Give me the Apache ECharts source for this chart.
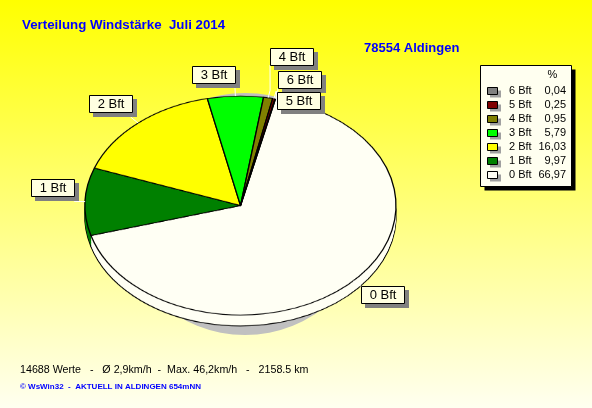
<!DOCTYPE html>
<html><head><meta charset="utf-8">
<script src="https://cdn.jsdelivr.net/npm/echarts@6/dist/echarts.min.js"></script>
<style>
html,body{margin:0;padding:0;width:592px;height:408px;overflow:hidden;background:#ffff80;}
#bg,#pie,#lab{position:absolute;left:0;top:0;width:592px;}
#bg,#lab{height:408px;}
#pie{height:580px;transform:scaleY(0.70418);transform-origin:0 0;}
</style></head><body>
<div id="bg"></div><div id="pie"></div><div id="lab"></div>
<script>
// ---------- data ----------
const categories = ['0 Bft', '1 Bft', '2 Bft', '3 Bft', '4 Bft', '5 Bft', '6 Bft'];
const percentages = [66.97, 9.97, 16.03, 5.79, 0.95, 0.25, 0.04];
const sliceColors = ['#FFFFF4', '#008000', '#FFFF00', '#00FF00', '#808000', '#800000', '#808080'];
const titleText = 'Verteilung Windstärke  Juli 2014';
const stationText = '78554 Aldingen';
const statsText = '14688 Werte   -   Ø 2,9km/h  -  Max. 46,2km/h   -   2158.5 km';
const creditText = '© WsWin32  -  AKTUELL IN ALDINGEN 654mNN';
const legendHeader = '%';

// ---------- layout ----------
const FONT = "'Liberation Sans', Arial, sans-serif";
const CX = 240.5, CY = 205.5, RX = 155.5, RY = 109.5, DEPTH = 11, START = 77;
const SY = RY / RX;
const BW = 43, BH = 17;
// label nudges for crowded small slices (layout only)
const labelShift = [[0,0],[0,0],[1,0],[0,0],[0,-20],[1,23],[0,2]];

// ---------- background chart ----------
const bg = echarts.init(document.getElementById('bg'), null, {renderer:'canvas'});
const bgEls = [];
bgEls.push({type:'rect', shape:{x:0,y:0,width:592,height:408}, style:{fill:{type:'linear',x:0,y:0,x2:0,y2:1,colorStops:[{offset:0,color:'#FFFF00'},{offset:1,color:'#FFFFF0'}]}}, z:0});
// pie drop shadow
bgEls.push({type:'circle', x:245, y:214, scaleY:121/125, shape:{cx:0,cy:0,r:125}, style:{fill:'#C0C0C0'}, z:1});
bgEls.push({type:'text', x:22, y:25, style:{text:titleText, font:"bold 13.3px "+FONT, fill:'#0000FF', textVerticalAlign:'middle'}, z:5});
bgEls.push({type:'text', x:364, y:48, style:{text:stationText, font:"bold 13px "+FONT, fill:'#0000FF', textVerticalAlign:'middle'}, z:5});
bgEls.push({type:'text', x:20, y:370, style:{text:statsText, font:"10.7px "+FONT, fill:'#000000', textVerticalAlign:'middle'}, z:5});
bgEls.push({type:'text', x:20, y:386.5, style:{text:creditText, font:"bold 8px "+FONT, fill:'#0000FF', textVerticalAlign:'middle'}, z:5});
// legend box
const LX = 480, LY = 65, LW = 91, LH = 121;
bgEls.push({type:'rect', shape:{x:LX+4.5,y:LY+4.5,width:LW,height:LH}, style:{fill:'#000000'}, z:5});
bgEls.push({type:'rect', shape:{x:LX+0.5,y:LY+0.5,width:LW,height:LH}, style:{fill:'#FFFFF0', stroke:'#000000', lineWidth:1}, z:6});
bgEls.push({type:'text', x:552.5, y:75, style:{text:legendHeader, font:"11px "+FONT, fill:'#000', textAlign:'center', textVerticalAlign:'middle'}, z:7});
for (let i = categories.length - 1; i >= 0; i--) {
  const r = categories.length - 1 - i;
  const y = 91 + 14 * r;
  bgEls.push({type:'rect', shape:{x:490,y:y-0.5,width:11,height:7}, style:{fill:'#A0A0A0'}, z:7});
  bgEls.push({type:'rect', shape:{x:487.5,y:y-3.5,width:10,height:7}, style:{fill:sliceColors[i], stroke:'#000', lineWidth:1}, z:8});
  bgEls.push({type:'text', x:509, y:y, style:{text:categories[i], font:"11px "+FONT, fill:'#000', textVerticalAlign:'middle'}, z:8});
  bgEls.push({type:'text', x:566, y:y, style:{text:percentages[i].toFixed(2).replace('.', ','), font:"11px "+FONT, fill:'#000', textAlign:'right', textVerticalAlign:'middle'}, z:8});
}
bg.setOption({animation:false, graphic:{elements:bgEls}});

// ---------- pie chart (vertically squashed into an ellipse) ----------
const pie = echarts.init(document.getElementById('pie'), null, {renderer:'canvas'});
function pieLayer(dy, border, z) {
  return {
    type:'pie', silent:true, animation:false, clockwise:true, startAngle:START,
    center:[CX, (CY + dy) / SY], radius:[0, RX], z:z, minAngle:0, avoidLabelOverlap:false,
    label:{show:false}, labelLine:{show:false}, emphasis:{disabled:true},
    itemStyle:{borderColor: border ? '#000' : 'rgba(0,0,0,0)', borderWidth: border ? 1.3 : 0},
    data: categories.map((c, i) => ({name:c, value:percentages[i], itemStyle:{color:sliceColors[i]}}))
  };
}
const layers = [pieLayer(DEPTH, true, 2)];
for (let d = DEPTH - 1; d >= 1; d -= 1) layers.push(pieLayer(d, false, 2 + layers.length));
layers.push(pieLayer(0, true, 2 + layers.length));
pie.setOption({animation:false, backgroundColor:'transparent', series:layers});

// ---------- slice labels ----------
const lab = echarts.init(document.getElementById('lab'), null, {renderer:'canvas'});
const total = percentages.reduce((a, b) => a + b, 0);
const labEls = [];
let acc = 0;
categories.forEach((c, i) => {
  const a0 = START - acc / total * 360;
  acc += percentages[i];
  const a1 = START - acc / total * 360;
  const mid = (a0 + a1) / 2 * Math.PI / 180;
  const cs = Math.cos(mid), sn = Math.sin(mid);
  const edge = [CX + RX * cs, CY - RY * sn];
  const outer = [CX + RX * 1.07 * cs, CY - RY * 1.07 * sn];
  let bx = cs >= 0 ? outer[0] : outer[0] - BW;
  let by = sn >= 0 ? outer[1] - 5 - BH : outer[1];
  bx = Math.round(bx + labelShift[i][0]);
  by = Math.round(by + labelShift[i][1]);
  const corner = [cs >= 0 ? bx : bx + BW, sn >= 0 ? by + BH : by];
  labEls.push({type:'polyline', shape:{points:[edge, outer, corner]}, style:{stroke:'#FFFFFF', lineWidth:1, fill:null}, z:1});
  labEls.push({type:'rect', shape:{x:bx+4,y:by+4,width:BW+1,height:BH+1}, style:{fill:'#808080'}, z:2});
  labEls.push({type:'rect', shape:{x:bx+0.5,y:by+0.5,width:BW,height:BH}, style:{fill:'#FFFFE1', stroke:'#000', lineWidth:1}, z:3});
  labEls.push({type:'text', x:bx + BW/2 + 0.5, y:by + BH/2 + 1, style:{text:c, font:"13px "+FONT, fill:'#000', textAlign:'center', textVerticalAlign:'middle'}, z:4});
});
lab.setOption({animation:false, backgroundColor:'transparent', graphic:{elements:labEls}});
</script>
</body></html>
